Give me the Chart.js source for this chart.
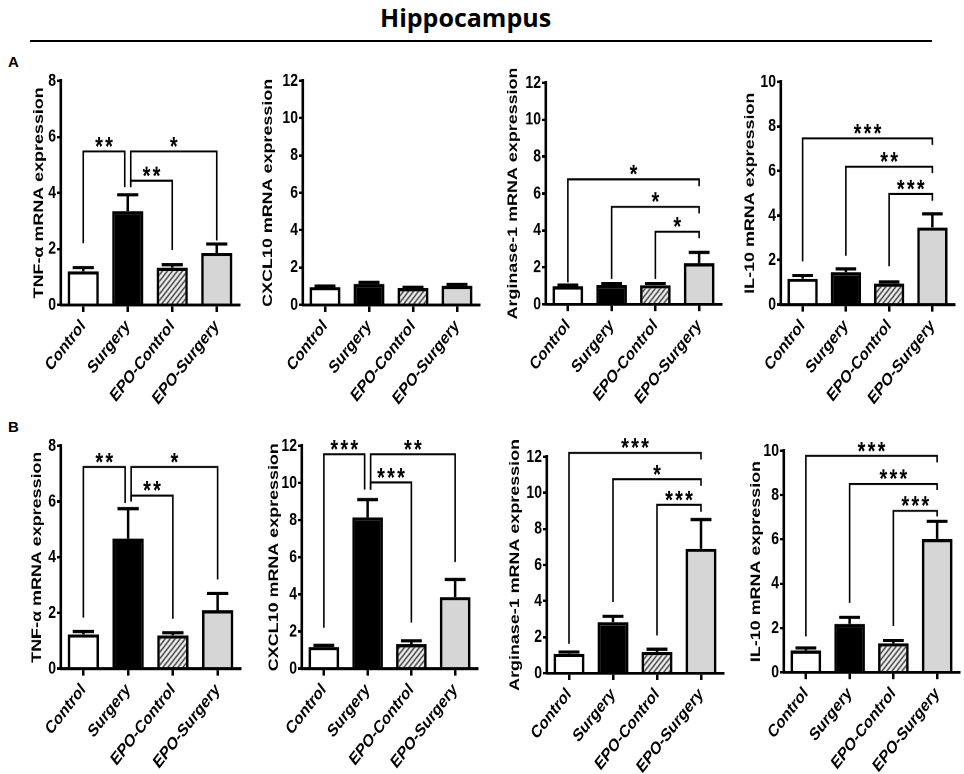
<!DOCTYPE html>
<html>
<head>
<meta charset="utf-8">
<script src="https://cdn.jsdelivr.net/npm/chart.js@4.4.1/dist/chart.umd.min.js"></script>
<style>
  html, body { margin: 0; padding: 0; background: #fff; width: 964px; height: 774px; overflow: hidden; }
  body { position: relative; font-family: 'Liberation Sans', Arial, sans-serif; }
  #title { position: absolute; left: 380px; top: 0px; font-family: 'Open Sans', sans-serif; font-weight: bold; font-size: 25px; line-height: 34px; }
  #rule { position: absolute; left: 30px; width: 902px; top: 40px; height: 0; border-top: 2.5px solid #000; }
  .lbl { position: absolute; left: 8px; font-weight: bold; font-size: 15px; line-height: 15px; }
  canvas { position: absolute; transform-origin: 0 0; }
</style>
</head>
<body>
<div id="title">Hippocampus</div>
<div id="rule"></div>
<div class="lbl" style="top:54px">A</div>
<div class="lbl" style="top:419px">B</div>
<canvas id="p1"></canvas>
<canvas id="p2"></canvas>
<canvas id="p3"></canvas>
<canvas id="p4"></canvas>
<canvas id="p5"></canvas>
<canvas id="p6"></canvas>
<canvas id="p7"></canvas>
<canvas id="p8"></canvas>
<script>
const groups = ['Control', 'Surgery', 'EPO-Control', 'EPO-Surgery'];

// row A (mean, SEM)
const tnfA = [1.2, 3.35, 1.33, 1.85];
const tnfAErr = [0.13, 0.58, 0.1, 0.32];
const cxclA = [0.95, 1.12, 0.9, 1.02];
const cxclAErr = [0.05, 0.08, 0.04, 0.07];
const argA = [0.97, 1.04, 1.03, 2.23];
const argAErr = [0.07, 0.09, 0.1, 0.58];
const il10A = [1.16, 1.46, 0.94, 3.46];
const il10AErr = [0.15, 0.14, 0.07, 0.61];

// row B
const tnfB = [1.23, 4.67, 1.19, 2.09];
const tnfBErr = [0.1, 1.07, 0.1, 0.61];
const cxclB = [1.16, 8.15, 1.31, 3.85];
const cxclBErr = [0.09, 0.95, 0.18, 0.95];
const argB = [1.07, 2.83, 1.17, 6.9];
const argBErr = [0.1, 0.32, 0.16, 1.62];
const il10B = [0.99, 2.18, 1.31, 6.02];
const il10BErr = [0.11, 0.3, 0.12, 0.79];

// significance: [from, to, bracket level, stars, leg end at from, leg end at to]
const tnfASig = [[0, 1, 5.48, '**', 2.2, 4.2], [1, 3, 5.48, '*', 4.2, 2.3], [1, 2, 4.43, '**', 4.23, 1.96]];
const argASig = [[0, 3, 6.77, '*', 1.19, 6.4], [1, 3, 5.28, '*', 1.37, 4.92], [2, 3, 3.93, '*', 1.37, 3.57]];
const il10ASig = [[0, 3, 7.46, '***', 1.94, 7.16], [1, 3, 6.19, '**', 2.19, 5.9], [2, 3, 4.96, '***', 1.72, 4.66]];
const tnfBSig = [[0, 1, 7.24, '**', 1.83, 5.95], [1, 3, 7.24, '*', 6.0, 3.2], [1, 2, 6.21, '**', 6.0, 1.79]];
const cxclBSig = [[0, 1, 11.55, '***', 2.2, 9.64], [1, 3, 11.55, '**', 9.64, 5.73], [1, 2, 10.03, '***', 9.64, 2.47]];
const argBSig = [[0, 3, 12.22, '***', 1.63, 11.85], [1, 3, 10.76, '*', 3.94, 10.39], [2, 3, 9.33, '***', 2.09, 8.96]];
const il10BSig = [[0, 3, 9.77, '***', 1.62, 9.47], [1, 3, 8.51, '***', 3.13, 8.24], [2, 3, 7.29, '***', 2.08, 7.04]];

// the original figure is stretched vertically; draw flat and scale the canvas
const K = 1.28;
const Y_W = 60, PAD_R = 5;
const PAD_T = Math.round(45 / K), X_H = Math.round(105 / K);
const SANS = "'Liberation Sans', Arial, sans-serif";

function hatch() {
  const c = document.createElement('canvas');
  c.width = c.height = 5;
  const g = c.getContext('2d');
  g.fillStyle = '#fff';
  g.fillRect(0, 0, 5, 5);
  g.strokeStyle = '#000';
  g.lineWidth = 1.2;
  g.beginPath();
  g.moveTo(0, 5); g.lineTo(5, 0);
  g.moveTo(-1, 1); g.lineTo(1, -1);
  g.moveTo(4, 6); g.lineTo(6, 4);
  g.stroke();
  return g.createPattern(c, 'repeat');
}

const fills = ['#ffffff', '#000000', hatch(), '#d6d6d6'];

function makePanel(id, box, values, errors, yMax, yTitle, titleOff, brackets) {
  const canvas = document.getElementById(id);
  const plotH = Math.round((box.b - box.t) / K);
  canvas.width = box.r - box.l + Y_W + PAD_R;
  canvas.height = plotH + PAD_T + X_H;
  canvas.style.left = (box.l - Y_W) + 'px';
  canvas.style.top = (box.t - PAD_T * K) + 'px';
  canvas.style.transform = 'scaleY(' + K + ')';

  const errBars = {
    id: 'errBars',
    afterDatasetsDraw(chart) {
      const { ctx, scales: { y } } = chart;
      const meta = chart.getDatasetMeta(0);
      ctx.save();
      ctx.strokeStyle = '#000';
      ctx.lineWidth = 2.5;
      meta.data.forEach((bar, i) => {
        const top = y.getPixelForValue(values[i] + errors[i]);
        const half = bar.width * 0.34;
        ctx.beginPath();
        ctx.moveTo(bar.x, bar.y);
        ctx.lineTo(bar.x, top);
        ctx.moveTo(bar.x - half, top);
        ctx.lineTo(bar.x + half, top);
        ctx.stroke();
      });
      ctx.restore();
    }
  };

  const sigBrackets = {
    id: 'sigBrackets',
    afterDraw(chart) {
      const { ctx, scales: { x, y } } = chart;
      ctx.save();
      ctx.strokeStyle = '#000';
      ctx.fillStyle = '#000';
      ctx.lineWidth = 1.6;
      ctx.font = 'bold 20px ' + SANS;
      ctx.textAlign = 'center';
      ctx.textBaseline = 'alphabetic';
      brackets.forEach(([a, b, level, stars, endA, endB]) => {
        const xa = x.getPixelForValue(a) + (brackets.some(o => o[1] === a) ? 3 : 0);
        const xb = x.getPixelForValue(b) - (brackets.some(o => o[0] === b) ? 3 : 0);
        const yl = y.getPixelForValue(level);
        ctx.beginPath();
        ctx.moveTo(xa, y.getPixelForValue(endA));
        ctx.lineTo(xa, yl);
        ctx.lineTo(xb, yl);
        ctx.lineTo(xb, y.getPixelForValue(endB));
        ctx.stroke();
        const n = stars.length, cx = (xa + xb) / 2;
        for (let k = 0; k < n; k++) {
          ctx.fillText('*', cx + (k - (n - 1) / 2) * 10, yl - 11 / K + 0.57 * 20);
        }
      });
      ctx.restore();
    }
  };

  new Chart(canvas, {
    type: 'bar',
    data: {
      labels: groups,
      datasets: [{
        data: values,
        backgroundColor: fills,
        borderColor: '#000',
        borderWidth: 2.6,
        categoryPercentage: 1,
        barPercentage: 0.7
      }]
    },
    options: {
      responsive: false,
      animation: false,
      devicePixelRatio: 2,
      layout: { padding: { left: 0, top: PAD_T, right: PAD_R, bottom: 0 } },
      plugins: { legend: { display: false }, tooltip: { enabled: false } },
      scales: {
        x: {
          offset: true,
          grid: { display: true, drawOnChartArea: false, offset: false, color: '#000', lineWidth: 2.5, tickLength: 5.5 },
          border: { color: '#000', width: 2.2 },
          ticks: {
            autoSkip: false, minRotation: 45, maxRotation: 45, color: '#000', padding: 3,
            font: { family: SANS, size: 14, weight: 'bold' }
          },
          afterFit: s => { s.height = X_H; }
        },
        y: {
          min: 0,
          max: yMax,
          ticks: { stepSize: 2, color: '#000', padding: 1, font: { family: SANS, size: 14, weight: 'bold' } },
          grid: { drawOnChartArea: false, color: '#000', lineWidth: 2, tickLength: 4 },
          border: { color: '#000', width: 2.6 },
          title: {
            display: true, text: yTitle, color: '#000',
            font: { family: SANS, size: 14, weight: 'bold' },
            padding: { top: Y_W - titleOff - 8.4, bottom: 0 }
          },
          afterFit: s => { s.width = Y_W; }
        }
      }
    },
    plugins: [errBars, sigBrackets]
  });
  canvas.style.width = canvas.width / 2 + 'px';
  canvas.style.height = canvas.height / 2 + 'px';
}

makePanel('p1', { l: 61, r: 239, t: 81, b: 305 }, tnfA, tnfAErr, 8, 'TNF-α mRNA expression', 22, tnfASig);
makePanel('p2', { l: 303, r: 479, t: 81, b: 305 }, cxclA, cxclAErr, 12, 'CXCL10 mRNA expression', 35, []);
makePanel('p3', { l: 546, r: 721, t: 83, b: 305 }, argA, argAErr, 12, 'Arginase-1 mRNA expression', 33, argASig);
makePanel('p4', { l: 781, r: 954, t: 82, b: 305 }, il10A, il10AErr, 10, 'IL-10 mRNA expression', 31, il10ASig);
makePanel('p5', { l: 61, r: 240, t: 446, b: 669 }, tnfB, tnfBErr, 8, 'TNF-α mRNA expression', 24, tnfBSig);
makePanel('p6', { l: 302, r: 477, t: 446, b: 669 }, cxclB, cxclBErr, 12, 'CXCL10 mRNA expression', 28, cxclBSig);
makePanel('p7', { l: 547, r: 723, t: 457, b: 673 }, argB, argBErr, 12, 'Arginase-1 mRNA expression', 32, argBSig);
makePanel('p8', { l: 784, r: 959, t: 451, b: 673 }, il10B, il10BErr, 10, 'IL-10 mRNA expression', 28, il10BSig);
</script>
</body>
</html>
